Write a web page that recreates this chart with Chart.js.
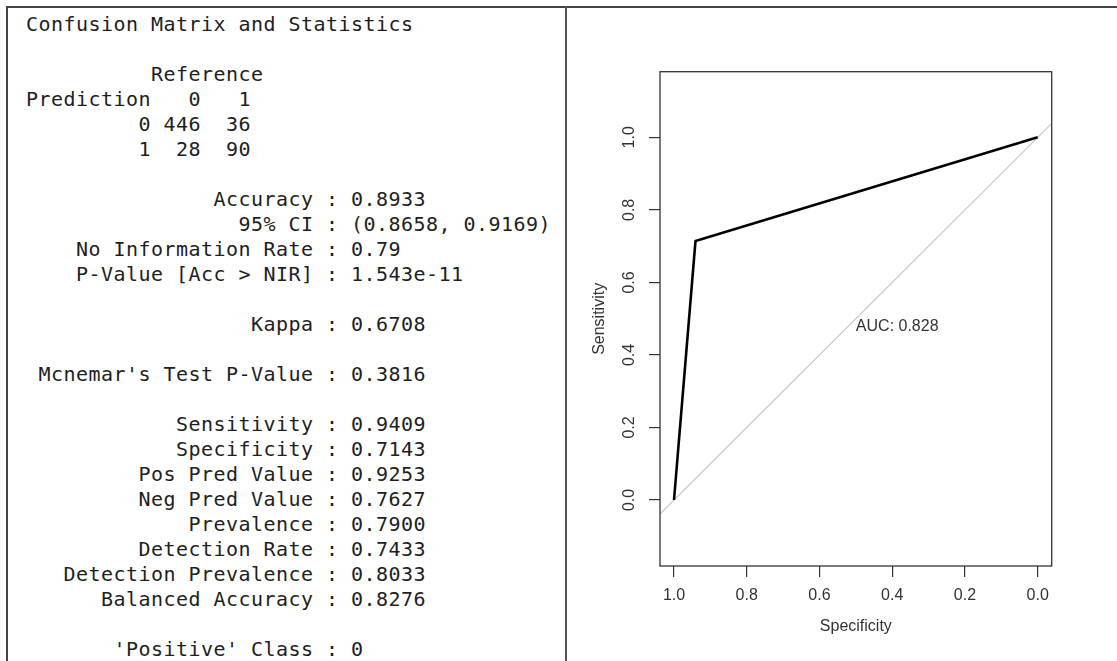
<!DOCTYPE html>
<html>
<head>
<meta charset="utf-8">
<title>Confusion Matrix and ROC</title>
<script src="https://cdn.jsdelivr.net/npm/chart.js@4/dist/chart.umd.min.js"></script>
<style>
  html, body { margin: 0; padding: 0; background: #fff; }
  body { width: 1117px; height: 661px; position: relative; overflow: hidden; }
  .frame-top { position: absolute; left: 6px; top: 6px; width: 1111px; height: 2px; background: #444; }
  .frame-left { position: absolute; left: 6px; top: 6px; width: 2px; height: 655px; background: #444; }
  .divider { position: absolute; left: 565px; top: 6px; width: 2px; height: 655px; background: #555; }
  #stats {
    position: absolute; left: 26px; top: 12px; margin: 0;
    font-family: "DejaVu Sans Mono", monospace; font-size: 20px;
    letter-spacing: 0.46px; line-height: 25px; color: #1e1e1e;
  }
  #plot { position: absolute; left: 568px; top: 0; }
</style>
</head>
<body>
<div class="frame-top"></div>
<div class="frame-left"></div>
<div class="divider"></div>
<pre id="stats"></pre>
<canvas id="plot" width="549" height="661"></canvas>
<script>
// confusion matrix (caret output)
var classLabels = ['0', '1'];
var matrixCounts = [[446, 36], [28, 90]];

var statNames = [
  'Accuracy', '95% CI', 'No Information Rate', 'P-Value [Acc > NIR]', '',
  'Kappa', '',
  "Mcnemar's Test P-Value", '',
  'Sensitivity', 'Specificity', 'Pos Pred Value', 'Neg Pred Value',
  'Prevalence', 'Detection Rate', 'Detection Prevalence', 'Balanced Accuracy', '',
  "'Positive' Class"
];
var statValues = [
  '0.8933', '(0.8658, 0.9169)', '0.79', '1.543e-11', '',
  '0.6708', '',
  '0.3816', '',
  '0.9409', '0.7143', '0.9253', '0.7627',
  '0.7900', '0.7433', '0.8033', '0.8276', '',
  '0'
];

// ROC curve
var specificity = [1.0, 0.9409, 0.0];
var sensitivity = [0.0, 0.7143, 1.0];
// chance line, clipped at the plot edges
var chanceX = [1.0385, -0.0385];
var chanceY = [-0.0385, 1.0385];
var tickValues = [0, 0.2, 0.4, 0.6, 0.8, 1.0];
var aucText = 'AUC: 0.828';

// build the text panel
var lines = ['Confusion Matrix and Statistics', ''];
lines.push('          Reference');
lines.push('Prediction' + classLabels.map(function (c) { return c.padStart(4); }).join(''));
matrixCounts.forEach(function (row, i) {
  lines.push(classLabels[i].padStart(10) + row.map(function (n) { return String(n).padStart(4); }).join(''));
});
lines.push('');
statNames.forEach(function (name, i) {
  lines.push(name ? name.padStart(23) + ' : ' + statValues[i] : '');
});
document.getElementById('stats').textContent = lines.join('\n');

var labelFont = { family: '"Liberation Sans", Arial, sans-serif', size: 16 };
var ink = '#333';

var boxAndAuc = {
  id: 'boxAndAuc',
  afterDatasetsDraw: function (chart) {
    var ctx = chart.ctx, a = chart.chartArea;
    ctx.save();
    ctx.strokeStyle = ink;
    ctx.lineWidth = 1.3;
    ctx.strokeRect(a.left, a.top, a.right - a.left, a.bottom - a.top);
    ctx.font = '16px "Liberation Sans", Arial, sans-serif';
    ctx.fillStyle = ink;
    ctx.textAlign = 'left';
    ctx.textBaseline = 'top';
    ctx.fillText(aucText, chart.scales.x.getPixelForValue(0.5), chart.scales.y.getPixelForValue(0.5));
    ctx.restore();
  }
};

var ctx = document.getElementById('plot').getContext('2d');
var chart = new Chart(ctx, {
  type: 'scatter',
  data: {
    datasets: [{
      label: 'ROC',
      data: specificity.map(function (s, i) { return { x: s, y: sensitivity[i] }; }),
      showLine: true,
      borderColor: '#000',
      borderWidth: 2.6,
      pointRadius: 0,
      borderJoinStyle: 'round'
    }, {
      label: 'chance',
      data: chanceX.map(function (s, i) { return { x: s, y: chanceY[i] }; }),
      showLine: true,
      borderColor: '#cccccc',
      borderWidth: 1.2,
      pointRadius: 0
    }]
  },
  plugins: [boxAndAuc],
  options: {
    responsive: false,
    animation: false,
    devicePixelRatio: 1,
    layout: { padding: { left: 20, right: 65.3, top: 71.7, bottom: 15 } },
    plugins: { legend: { display: false }, tooltip: { enabled: false } },
    scales: {
      x: {
        type: 'linear',
        reverse: true,
        min: -0.0385,
        max: 1.0385,
        afterBuildTicks: function (s) { s.ticks = tickValues.map(function (v) { return { value: v }; }); },
        afterFit: function (s) { s.height = 80; },
        ticks: {
          callback: function (v) { return v.toFixed(1); },
          font: labelFont, color: ink, padding: 9, maxRotation: 0, autoSkip: false
        },
        grid: { drawOnChartArea: false, drawTicks: true, tickLength: 11, tickColor: ink, lineWidth: 1.2 },
        border: { display: false },
        title: { display: true, text: 'Specificity', font: labelFont, color: ink, padding: { top: 0, bottom: 9.7 } }
      },
      y: {
        type: 'linear',
        min: -0.182,
        max: 1.181,
        afterBuildTicks: function (s) { s.ticks = tickValues.map(function (v) { return { value: v }; }); },
        afterFit: function (s) { s.width = 72; },
        ticks: {
          callback: function (v) { return v.toFixed(1); },
          font: labelFont, color: ink, padding: 8, minRotation: 90, maxRotation: 90,
          crossAlign: 'center', autoSkip: false
        },
        grid: { drawOnChartArea: false, drawTicks: true, tickLength: 11, tickColor: ink, lineWidth: 1.2 },
        border: { display: false },
        title: { display: true, text: 'Sensitivity', font: labelFont, color: ink, padding: { top: 2.4, bottom: 0 } }
      }
    }
  }
});
</script>
</body>
</html>
